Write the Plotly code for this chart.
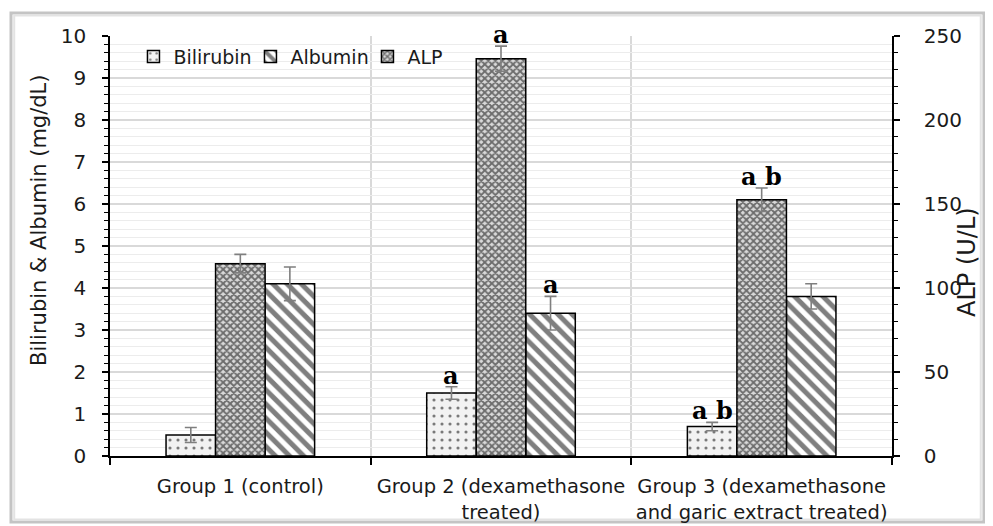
import plotly.graph_objects as go

groups = ["Group 1 (control)", "Group 2 (dexamethasone<br>treated)", "Group 3 (dexamethasone<br>and garic extract treated)"]
bilirubin = [0.5, 1.5, 0.7]
bilirubin_err = [0.18, 0.15, 0.1]
albumin = [4.1, 3.4, 3.8]
albumin_err = [0.4, 0.4, 0.3]
alp = [114.5, 236.5, 152.5]
alp_err = [5.5, 7.5, 7.0]
bilirubin_lbl = ["", "a", "a b"]
albumin_lbl = ["", "a", ""]
alp_lbl = ["", "a", "a b"]

xs = [0, 1, 2]
FONT = "DejaVu Sans"
TXT = "#1a1a1a"
W = 0.19

fig = go.Figure()
errstyle = dict(color="#7f7f7f", thickness=1.6, width=6)
fig.add_trace(go.Bar(
    x=xs, y=bilirubin, name="Bilirubin", width=W, offset=-0.285,
    marker=dict(color="#f2f2f2", line=dict(color="black", width=1.5),
                pattern=dict(shape=".", fgcolor="black", bgcolor="#f2f2f2", size=8, solidity=0.12)),
    error_y=dict(type="data", array=bilirubin_err, **errstyle), yaxis="y"))
fig.add_trace(go.Bar(
    x=xs, y=albumin, name="Albumin", width=W, offset=0.095,
    marker=dict(color="white", line=dict(color="black", width=1.5),
                pattern=dict(shape="\\", fgcolor="black", bgcolor="white", size=10, solidity=0.5)),
    error_y=dict(type="data", array=albumin_err, **errstyle), yaxis="y"))
fig.add_trace(go.Bar(
    x=xs, y=alp, name="ALP", width=W, offset=-0.095,
    marker=dict(color="#bdbdbd", line=dict(color="black", width=1.5),
                pattern=dict(shape="x", fgcolor="black", bgcolor="#d9d9d9", size=5, solidity=0.6)),
    error_y=dict(type="data", array=alp_err, **errstyle), yaxis="y2"))

# significance letters
for vals, errs, lbls, off, ax in [
    (bilirubin, bilirubin_err, bilirubin_lbl, -0.19, "y"),
    (albumin, albumin_err, albumin_lbl, 0.19, "y"),
    (alp, alp_err, alp_lbl, 0.0, "y2"),
]:
    for i, (v, e, t) in enumerate(zip(vals, errs, lbls)):
        if t:
            fig.add_annotation(x=xs[i] + off, y=v + e, xref="x", yref=ax, text="<b>" + t + "</b>",
                               showarrow=False, yanchor="bottom", yshift=-5,
                               font=dict(family="DejaVu Serif", size=24, color="black"))

# axis titles
fig.add_annotation(x=-0.0908, y=0.562, xref="paper", yref="paper", text="Bilirubin & Albumin (mg/dL)",
                   textangle=-90, showarrow=False, xanchor="center", yanchor="middle",
                   font=dict(size=21, family=FONT, color=TXT))
fig.add_annotation(x=1.0959, y=0.462, xref="paper", yref="paper", text="ALP (U/L)",
                   textangle=-90, showarrow=False, xanchor="center", yanchor="middle",
                   font=dict(size=24, family=FONT, color=TXT))

fig.update_layout(
    width=985, height=518,
    margin=dict(l=102, r=101, t=28, b=70, autoexpand=False),
    paper_bgcolor="white", plot_bgcolor="white",
    barmode="overlay",
    font=dict(family=FONT, size=18, color=TXT),
    showlegend=True,
    legend=dict(orientation="h", x=0.030, y=0.996, xanchor="left", yanchor="top",
                bgcolor="rgba(0,0,0,0)", font=dict(size=19, family=FONT, color=TXT),
                traceorder="normal", entrywidth=72, entrywidthmode="pixels"),
    xaxis=dict(range=[-0.5, 2.5], tickvals=xs, ticktext=groups, showgrid=False, ticks="",
               showline=True, linecolor="black", linewidth=1.5, zeroline=False, automargin=False,
               tickfont=dict(size=19.5, family=FONT, color=TXT), ticklabelstandoff=12,
               minor=dict(tickvals=[-0.5, 0.5, 1.5, 2.5], showgrid=True, gridcolor="#d9d9d9",
                          gridwidth=1.5, ticks="outside", ticklen=7, tickcolor="black", tickwidth=1.5)),
    yaxis=dict(range=[0, 10], dtick=1, showline=True, linecolor="black", linewidth=1.5,
               ticks="outside", ticklen=6, tickwidth=1.5, tickcolor="black", automargin=False,
               gridcolor="#d9d9d9", gridwidth=1.5, zeroline=False,
               tickfont=dict(size=20, family=FONT, color=TXT), ticklabelstandoff=12,
               minor=dict(dtick=0.2, showgrid=True, gridcolor="#ececec", gridwidth=1,
                          ticks="outside", ticklen=4, tickcolor="black", tickwidth=1.2)),
    yaxis2=dict(range=[0, 250], dtick=50, overlaying="y", side="right", showgrid=False,
                showline=True, linecolor="black", linewidth=1.5, zeroline=False, automargin=False,
                ticks="outside", ticklen=6, tickwidth=1.5, tickcolor="black",
                tickfont=dict(size=20, family=FONT, color=TXT), ticklabelstandoff=20,
                minor=dict(dtick=10, ticks="outside", ticklen=4, tickcolor="black", tickwidth=1.2)),
)

# outer frame
fig.add_shape(type="rect", xref="paper", yref="paper", x0=-0.1266, x1=1.1176, y0=-0.157, y1=1.0548,
              line=dict(color="#c4c4c4", width=3), layer="below")
fig.add_shape(type="rect", xref="paper", yref="paper", x0=-0.1225, x1=1.1135, y0=-0.151, y1=1.049,
              line=dict(color="#e3e3e3", width=2), layer="below")

fig.write_html("out.html")
